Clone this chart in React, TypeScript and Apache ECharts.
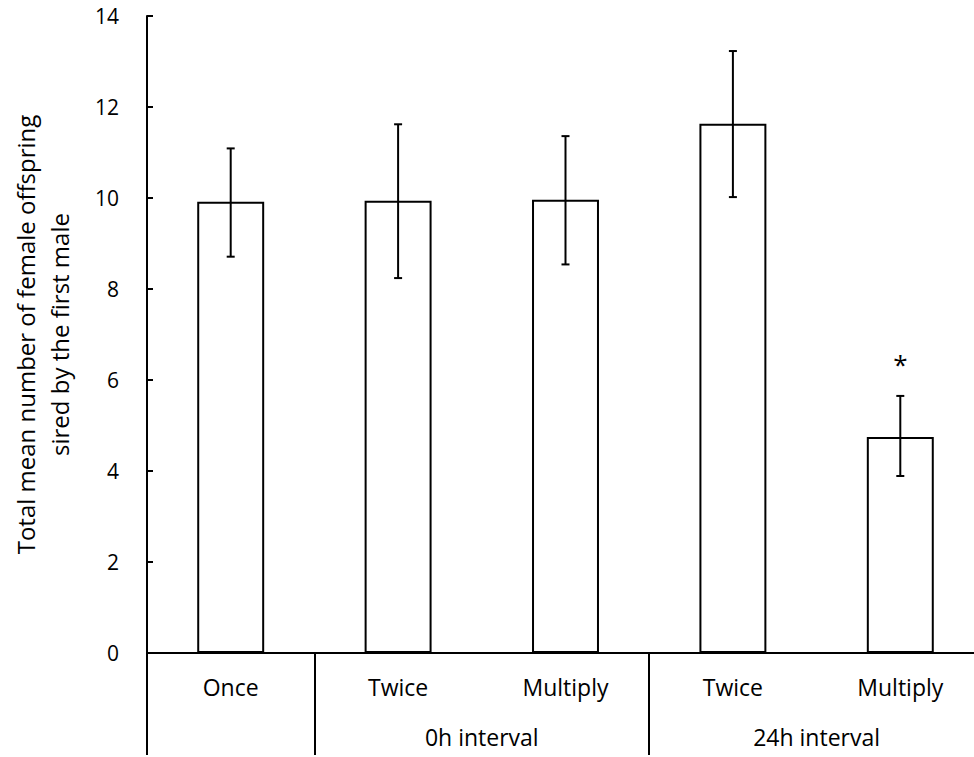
import React, { useEffect, useRef } from "react";
import * as echarts from "echarts";

const categories = ["Once", "Twice", "Multiply", "Twice", "Multiply"];
const means = [9.92, 9.94, 9.96, 11.63, 4.75];
const upperErr = [11.09, 11.62, 11.36, 13.23, 5.65];
const lowerErr = [8.71, 8.24, 8.54, 10.02, 3.89];
const marks = ["", "", "", "", "*"];
const groupLabels = ["0h interval", "24h interval"];
const groupSpans = [
  [1, 2],
  [3, 4],
];
const yTicks = { min: 0, max: 14, interval: 2 };

const FONT = "Open Sans";

export default function App() {
  const ref = useRef<HTMLDivElement>(null);
  useEffect(() => {
    document.body.style.margin = "0";
    if (!ref.current) return;
    const chart = echarts.init(ref.current, undefined, { renderer: "svg" });

    const sepIdx = new Set<number>([0, ...groupSpans.map((g) => g[0])]);
    const nPts = categories.length * 2 + 1;
    const groupAxisData: string[] = Array.from({ length: nPts }, () => "");
    groupSpans.forEach((g, k) => {
      groupAxisData[g[0] + g[1] + 1] = groupLabels[k];
    });

    chart.setOption({
      animation: false,
      backgroundColor: "#ffffff",
      grid: {
        left: 147,
        top: 16,
        width: 837,
        height: 637,
        outerBoundsMode: "none",
        containLabel: false,
      },
      xAxis: [
        {
          type: "category",
          data: categories,
          axisLine: { lineStyle: { color: "#000", width: 2 } },
          axisTick: {
            show: true,
            length: 102,
            interval: (index: number) => sepIdx.has(index),
            lineStyle: { color: "#000", width: 2 },
          },
          axisLabel: {
            interval: 0,
            margin: 22,
            fontFamily: FONT,
            fontSize: 23,
            color: "#000",
          },
        },
        {
          type: "category",
          position: "bottom",
          boundaryGap: false,
          offset: 50,
          data: groupAxisData,
          axisLine: { show: false },
          axisTick: { show: false },
          axisLabel: {
            interval: 0,
            margin: 22,
            fontFamily: FONT,
            fontSize: 23,
            color: "#000",
          },
        },
      ],
      yAxis: {
        type: "value",
        min: yTicks.min,
        max: yTicks.max,
        interval: yTicks.interval,
        name: "Total mean number of female offspring\nsired by the first male",
        nameLocation: "middle",
        nameGap: 71,
        nameTextStyle: {
          fontFamily: FONT,
          fontSize: 24,
          color: "#000",
          lineHeight: 34,
          align: "center",
        },
        splitLine: { show: false },
        axisLine: { show: true, lineStyle: { color: "#000", width: 2 } },
        axisTick: {
          show: true,
          inside: true,
          length: 6,
          lineStyle: { color: "#000", width: 2 },
        },
        axisLabel: {
          margin: 28,
          fontFamily: FONT,
          fontSize: 21,
          color: "#000",
        },
      },
      series: [
        {
          type: "bar",
          data: means,
          barWidth: "40%",
          itemStyle: { color: "#fff", borderColor: "#000", borderWidth: 2 },
        },
        {
          type: "custom",
          data: categories.map((_, i) => [i, upperErr[i], lowerErr[i]]),
          clip: false,
          z: 5,
          renderItem: (params: any, api: any) => {
            const x = api.value(0);
            const hi = api.coord([x, api.value(1)]);
            const lo = api.coord([x, api.value(2)]);
            const cap = 4;
            const style = { stroke: "#000", lineWidth: 2 };
            const children: any[] = [
              { type: "line", shape: { x1: hi[0], y1: hi[1], x2: lo[0], y2: lo[1] }, style },
              { type: "line", shape: { x1: hi[0] - cap, y1: hi[1], x2: hi[0] + cap, y2: hi[1] }, style },
              { type: "line", shape: { x1: lo[0] - cap, y1: lo[1], x2: lo[0] + cap, y2: lo[1] }, style },
            ];
            const m = marks[params.dataIndex];
            if (m) {
              children.push({
                type: "text",
                style: {
                  text: m,
                  x: hi[0],
                  y: hi[1] - 32,
                  align: "center",
                  verticalAlign: "middle",
                  fontFamily: FONT,
                  fontSize: 26,
                  fill: "#000",
                },
              });
            }
            return { type: "group", children };
          },
        },
      ],
    });
    return () => chart.dispose();
  }, []);
  return <div ref={ref} style={{ width: 974, height: 757 }} />;
}
